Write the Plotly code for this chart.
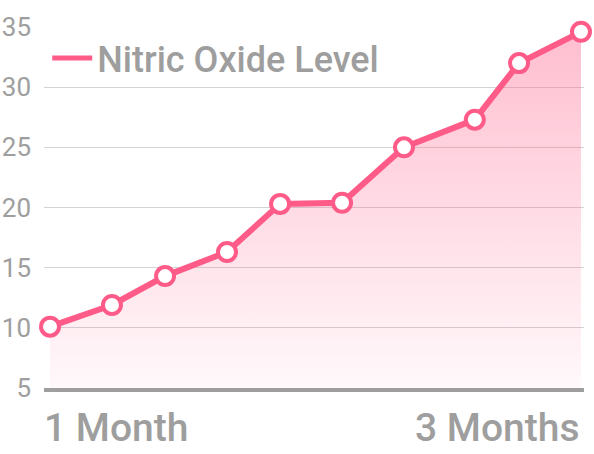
import plotly.graph_objects as go

# Data
days = [30, 37, 43, 50, 56, 63, 70, 78, 83, 90]
nitric_oxide = [10.1, 11.9, 14.3, 16.3, 20.3, 20.4, 25.0, 27.3, 32.0, 34.6]
y_ticks = [5, 10, 15, 20, 25, 30, 35]
x_labels = ["1 Month", "3 Months"]
series_name = "Nitric Oxide Level"

PINK = "#ff5b88"
GREY = "#9e9e9e"
FONT = "Roboto"

fig = go.Figure()

# Main area + line + markers
fig.add_trace(go.Scatter(
    x=days, y=nitric_oxide,
    mode="lines+markers",
    fill="tozeroy",
    fillgradient=dict(
        type="vertical",
        start=5, stop=35,
        colorscale=[[0, "rgba(255,91,136,0.04)"], [1, "rgba(255,91,136,0.40)"]],
    ),
    line=dict(color=PINK, width=6),
    marker=dict(size=18, color="white", line=dict(color=PINK, width=4)),
    cliponaxis=False,
    showlegend=False,
    hoverinfo="x+y",
))

# Legend entry (line only)
fig.add_trace(go.Scatter(
    x=[None], y=[None], mode="lines",
    line=dict(color=PINK, width=5),
    name=series_name, showlegend=True,
))

fig.update_layout(
    width=594, height=454,
    margin=dict(l=44, r=10, t=27, b=66, autoexpand=False),
    paper_bgcolor="white", plot_bgcolor="white",
    font=dict(family=FONT, color=GREY),
    legend=dict(
        x=0.006, xanchor="left", y=0.914, yanchor="middle",
        bgcolor="rgba(0,0,0,0)",
        font=dict(family=FONT, size=36, color=GREY, weight=500),
        itemwidth=40,
    ),
    xaxis=dict(
        range=[29.32, 90.34],
        showgrid=False, zeroline=False,
        showticklabels=False, ticks="",
        showline=True, linecolor=GREY, linewidth=4,
        fixedrange=True, automargin=False,
    ),
    yaxis=dict(
        range=[5, 35],
        tickvals=y_ticks,
        ticktext=[str(v) for v in y_ticks],
        showgrid=True, gridcolor="#d3d3d3", gridwidth=1,
        zeroline=False, showline=False, ticks="",
        ticklabelstandoff=12,
        tickfont=dict(family=FONT, size=26, color=GREY),
        fixedrange=True, automargin=False,
    ),
    annotations=[
        dict(text=x_labels[0], xref="paper", yref="paper", x=0, y=0,
             xanchor="left", yanchor="middle", xshift=-2, yshift=-40,
             showarrow=False,
             font=dict(family=FONT, size=39, color=GREY, weight=500)),
        dict(text=x_labels[1], xref="paper", yref="paper", x=1, y=0,
             xanchor="right", yanchor="middle", xshift=-2, yshift=-40,
             showarrow=False,
             font=dict(family=FONT, size=39, color=GREY, weight=500)),
    ],
)

# Remove the browser's default 8px body margin so the figure fills the window
fig.write_html(
    "out.html",
    config={"displayModeBar": False},
    post_script="document.body.style.margin='0';document.body.style.padding='0';",
)
